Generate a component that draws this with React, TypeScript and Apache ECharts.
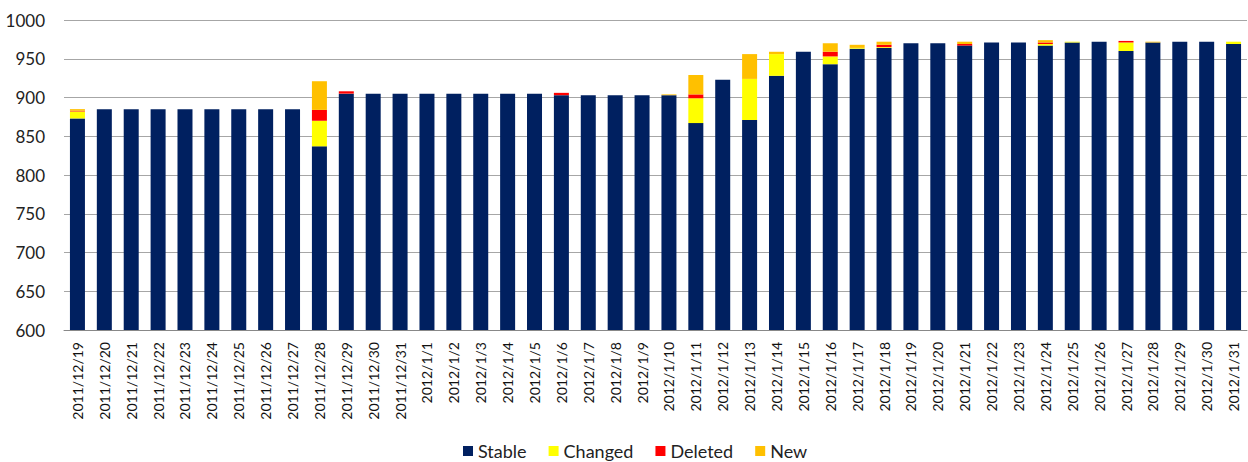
import React, { useEffect, useRef } from "react";
import * as echarts from "echarts";

const categories: string[] = [
  "2011/12/19", "2011/12/20", "2011/12/21", "2011/12/22", "2011/12/23", "2011/12/24",
  "2011/12/25", "2011/12/26", "2011/12/27", "2011/12/28", "2011/12/29", "2011/12/30",
  "2011/12/31", "2012/1/1", "2012/1/2", "2012/1/3", "2012/1/4", "2012/1/5", "2012/1/6",
  "2012/1/7", "2012/1/8", "2012/1/9", "2012/1/10", "2012/1/11", "2012/1/12", "2012/1/13",
  "2012/1/14", "2012/1/15", "2012/1/16", "2012/1/17", "2012/1/18", "2012/1/19", "2012/1/20",
  "2012/1/21", "2012/1/22", "2012/1/23", "2012/1/24", "2012/1/25", "2012/1/26", "2012/1/27",
  "2012/1/28", "2012/1/29", "2012/1/30", "2012/1/31",
];

const stable: number[] = [
  873, 885, 885, 885, 885, 885, 885, 885, 885, 837, 905, 905,
  905, 905, 905, 905, 905, 905, 903,
  903, 903, 903, 903, 867, 923, 871,
  928, 959, 943, 963, 964, 970, 970,
  967, 971, 971, 967, 971, 972, 960,
  971, 972, 972, 969,
];

const changed: number[] = [
  9, 0, 0, 0, 0, 0, 0, 0, 0, 33, 0, 0,
  0, 0, 0, 0, 0, 0, 0,
  0, 0, 0, 0, 32, 0, 53,
  28, 0, 10, 1, 1, 0, 0,
  0, 0, 0, 2, 1, 0, 11,
  0, 0, 0, 3,
];

const deleted: number[] = [
  1, 0, 0, 0, 0, 0, 0, 0, 0, 14, 3, 0,
  0, 0, 0, 0, 0, 0, 3,
  0, 0, 0, 0, 5, 0, 0,
  0, 0, 6, 0, 3, 0, 0,
  2, 0, 0, 2, 0, 0, 2,
  0, 0, 0, 0,
];

const added: number[] = [
  2, 0, 0, 0, 0, 0, 0, 0, 0, 37, 0, 0,
  0, 0, 0, 0, 0, 0, 0,
  0, 0, 0, 1, 25, 0, 32,
  3, 0, 11, 4, 4, 0, 0,
  3, 0, 0, 3, 0, 0, 0,
  1, 0, 0, 0,
];

const seriesNames = ["Stable", "Changed", "Deleted", "New"];
const seriesColors = ["#002060", "#FFFF00", "#FF0000", "#FFC000"];

export default function App() {
  const ref = useRef<HTMLDivElement>(null);

  useEffect(() => {
    document.body.style.margin = "0";
    if (!ref.current) return;
    const chart = echarts.init(ref.current, null, { renderer: "svg" });
    const font = "Lato, 'Noto Sans', sans-serif";
    const dataSets = [stable, changed, deleted, added];
    chart.setOption({
      animation: false,
      grid: { left: 64, right: 1, top: 20, bottom: 132, containLabel: false },
      legend: {
        data: seriesNames,
        top: 436,
        left: 458,
        itemWidth: 10,
        itemHeight: 10,
        itemGap: 22,
        icon: "rect",
        textStyle: { fontFamily: font, fontSize: 18, color: "#222", lineHeight: 20 },
      },
      xAxis: {
        type: "category",
        data: categories,
        axisTick: { show: false },
        axisLine: { lineStyle: { color: "#888", width: 1 } },
        axisLabel: {
          rotate: 90,
          interval: 0,
          margin: 12,
          fontFamily: font,
          fontSize: 14,
          color: "#111",
        },
      },
      yAxis: {
        type: "value",
        min: 600,
        max: 1000,
        interval: 50,
        axisLine: { show: false },
        axisTick: { show: false },
        splitLine: { lineStyle: { color: "#a6a6a6", width: 1 } },
        axisLabel: {
          margin: 19,
          fontFamily: font,
          fontSize: 17,
          color: "#222",
          formatter: (v: number) => String(v),
        },
      },
      series: seriesNames.map((name, i) => ({
        name,
        type: "bar",
        stack: "total",
        data: dataSets[i],
        barWidth: 15,
        itemStyle: { color: seriesColors[i] },
      })),
    });
    return () => chart.dispose();
  }, []);

  return <div ref={ref} style={{ width: 1248, height: 462 }} />;
}
